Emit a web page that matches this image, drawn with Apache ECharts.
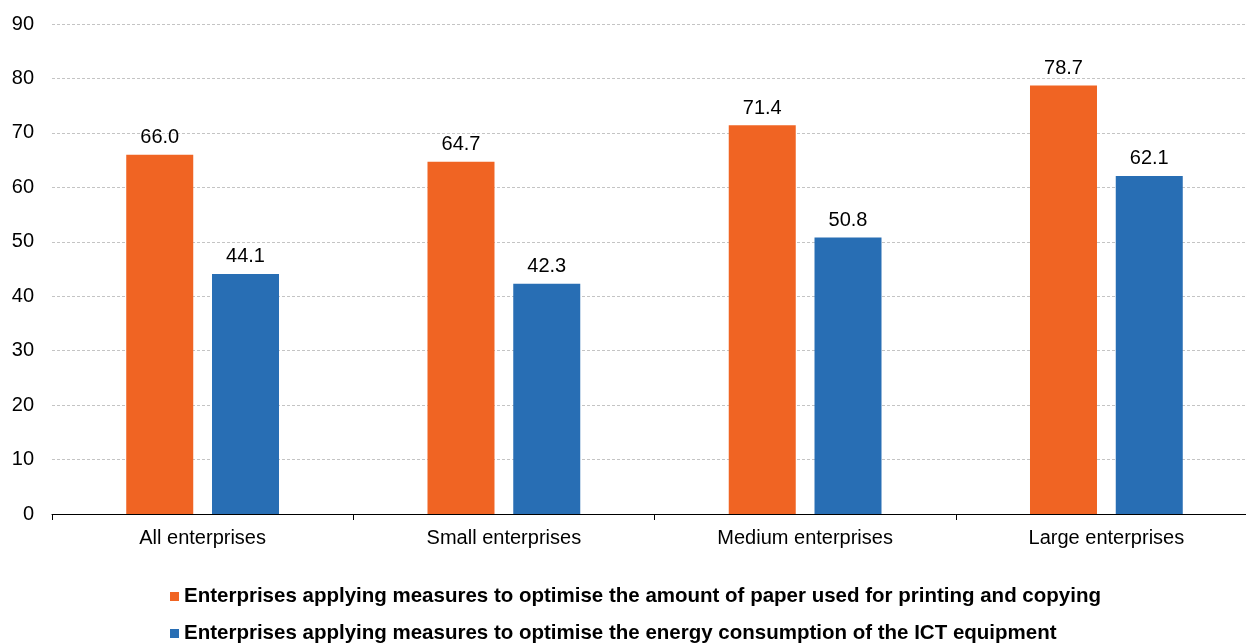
<!DOCTYPE html>
<html>
<head>
<meta charset="utf-8">
<script src="https://cdn.jsdelivr.net/npm/echarts@6/dist/echarts.min.js"></script>
<style>
  html, body { margin: 0; padding: 0; background: #fff; overflow: hidden; }
  /* the plot runs slightly past the right edge of the window */
  #chart { width: 1257px; height: 644px; }
</style>
</head>
<body>
<div id="chart"></div>
<script>
const categories = ['All enterprises', 'Small enterprises', 'Medium enterprises', 'Large enterprises'];
const seriesNames = [
  'Enterprises applying measures to optimise the amount of paper used for printing and copying',
  'Enterprises applying measures to optimise the energy consumption of the ICT equipment'
];
const paperValues = [66.0, 64.7, 71.4, 78.7];
const energyValues = [44.1, 42.3, 50.8, 62.1];
const colors = ['#F06423', '#286EB4'];

const font = 'Arial, "Liberation Sans", sans-serif';

const chart = echarts.init(document.getElementById('chart'), null, { renderer: 'canvas' });

function barSeries(name, data, color) {
  return {
    name: name,
    type: 'bar',
    data: data,
    barWidth: 67,
    barGap: '28%',
    itemStyle: { color: color },
    label: {
      show: true,
      position: 'top',
      distance: 7,
      color: '#000',
      fontFamily: font,
      fontSize: 20,
      formatter: p => p.value.toFixed(1)
    }
  };
}

// one legend per row so each entry sits on its own line
function legendRow(name, top) {
  return {
    orient: 'horizontal',
    left: 165,
    top: top,
    itemWidth: 9,
    itemHeight: 9,
    itemGap: 10,
    icon: 'rect',
    textStyle: { fontFamily: font, fontSize: 20.5, fontWeight: 'bold', color: '#000' },
    data: [name]
  };
}

chart.setOption({
  animation: false,
  grid: { left: 52, top: 24, right: 0, bottom: 130 },
  legend: [
    legendRow(seriesNames[0], 581),
    legendRow(seriesNames[1], 618)
  ],
  xAxis: {
    type: 'category',
    data: categories,
    axisLine: { lineStyle: { color: '#000', width: 1 } },
    axisTick: { show: true, length: 6, lineStyle: { color: '#000' } },
    axisLabel: { color: '#000', fontFamily: font, fontSize: 20, margin: 14 }
  },
  yAxis: {
    type: 'value',
    min: 0,
    max: 90,
    interval: 10,
    axisLine: { show: false },
    axisTick: { show: false },
    axisLabel: { color: '#000', fontFamily: font, fontSize: 20, margin: 18 },
    splitLine: { lineStyle: { color: '#c4c4c4', type: [3, 2], width: 1 } }
  },
  series: [
    barSeries(seriesNames[0], paperValues, colors[0]),
    barSeries(seriesNames[1], energyValues, colors[1])
  ]
});
</script>
</body>
</html>
